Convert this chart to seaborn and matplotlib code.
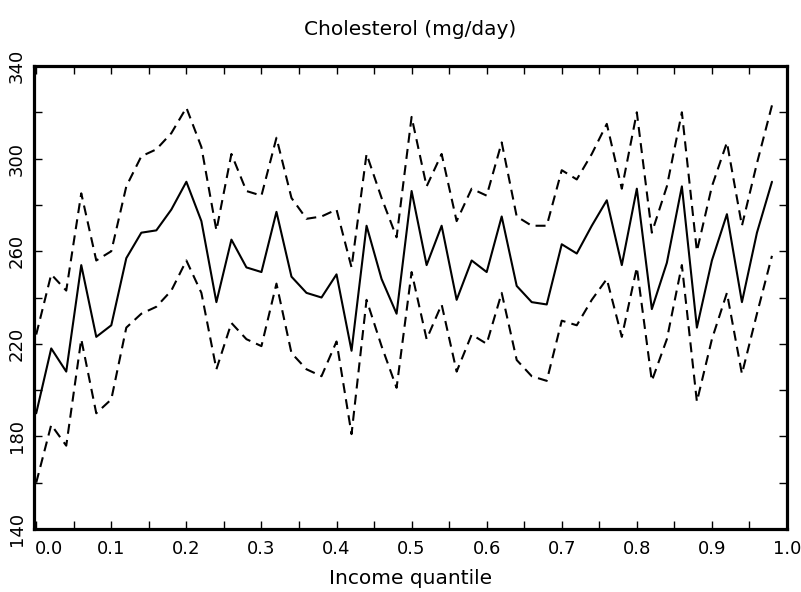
import numpy as np
import pandas as pd
import matplotlib
matplotlib.use("Agg")
import matplotlib.pyplot as plt
import matplotlib.transforms as mtransforms
from matplotlib.ticker import MultipleLocator
import seaborn as sns

# Income quantile grid (0.00 .. 0.98, step 0.02)
quantile = [i / 50 for i in range(50)]

# mean cholesterol intake and the two dashed bands
mean_chol = [190, 218, 208, 254, 223, 228, 257, 268, 269, 278,
             290, 273, 238, 265, 253, 251, 277, 249, 242, 240,
             250, 217, 271, 248, 233, 286, 254, 271, 239, 256,
             251, 275, 245, 238, 237, 263, 259, 271, 282, 254,
             287, 235, 255, 288, 227, 256, 276, 238, 268, 290]
upper_chol = [224, 250, 243, 285, 256, 260, 288, 301, 304, 311,
              322, 305, 269, 302, 286, 284, 309, 283, 274, 275,
              278, 253, 302, 283, 266, 318, 288, 302, 273, 287,
              284, 307, 275, 271, 271, 295, 291, 302, 315, 287,
              320, 268, 288, 320, 260, 288, 307, 271, 298, 323]
lower_chol = [160, 185, 176, 222, 190, 196, 227, 233, 236, 243,
              256, 242, 209, 229, 222, 219, 246, 216, 209, 206,
              221, 181, 239, 219, 201, 251, 222, 237, 208, 224,
              220, 242, 213, 206, 204, 230, 228, 239, 248, 223,
              253, 204, 222, 254, 195, 222, 242, 207, 233, 258]

x_ticks = [0.0, 0.1, 0.2, 0.3, 0.4, 0.5, 0.6, 0.7, 0.8, 0.9, 1.0]
y_ticks = [140, 180, 220, 260, 300, 340]

title = "Cholesterol (mg/day)"
x_label = "Income quantile"

df = pd.concat([
    pd.DataFrame({"q": quantile, "chol": mean_chol, "series": "mean"}),
    pd.DataFrame({"q": quantile, "chol": upper_chol, "series": "upper"}),
    pd.DataFrame({"q": quantile, "chol": lower_chol, "series": "lower"}),
])

sns.set_style("white")
plt.rcParams["font.family"] = ["DejaVu Sans"]
plt.rcParams["text.color"] = "black"
plt.rcParams["axes.labelcolor"] = "black"
plt.rcParams["xtick.color"] = "black"
plt.rcParams["ytick.color"] = "black"

fig = plt.figure(figsize=(8.01, 5.92), dpi=100)
ax = fig.add_axes([0.0424, 0.1064, 0.9401, 0.7821])

sns.lineplot(data=df, x="q", y="chol", style="series", units="series",
             estimator=None, color="black", linewidth=1.5,
             dashes={"mean": "", "upper": (4.8, 3), "lower": (4.8, 3)},
             legend=False, ax=ax)

ax.set_xlim(-0.003, 1.0)
ax.set_ylim(140, 340)
ax.set_xticks(x_ticks)
ax.set_xticklabels([f"{v:.1f}" for v in x_ticks])
ax.set_yticks(y_ticks)
ax.set_yticklabels([str(v) for v in y_ticks])
ax.xaxis.set_minor_locator(MultipleLocator(0.05))
ax.yaxis.set_minor_locator(MultipleLocator(20))

for s in ax.spines.values():
    s.set_linewidth(2.3)
    s.set_color("black")

ax.tick_params(which="both", direction="in", top=True, right=True,
               bottom=True, left=True, length=5.5, width=1.0, color="black")
ax.tick_params(axis="x", which="major", labelsize=13, pad=8)
ax.tick_params(axis="y", which="major", labelsize=13, pad=6)
for lab in ax.get_yticklabels():
    lab.set_rotation(90)
    lab.set_va("center")

# the 0.0 label sits a little to the right of its tick
first = ax.get_xticklabels()[0]
first.set_transform(first.get_transform() +
                    mtransforms.ScaledTranslation(13 / 100, 0, fig.dpi_scale_trans))

ax.set_xlabel(x_label, fontsize=14.5, labelpad=8)
ax.set_ylabel("")
ax.set_title(title, fontsize=14.5, pad=22)

fig.savefig("out.png", dpi=100)
